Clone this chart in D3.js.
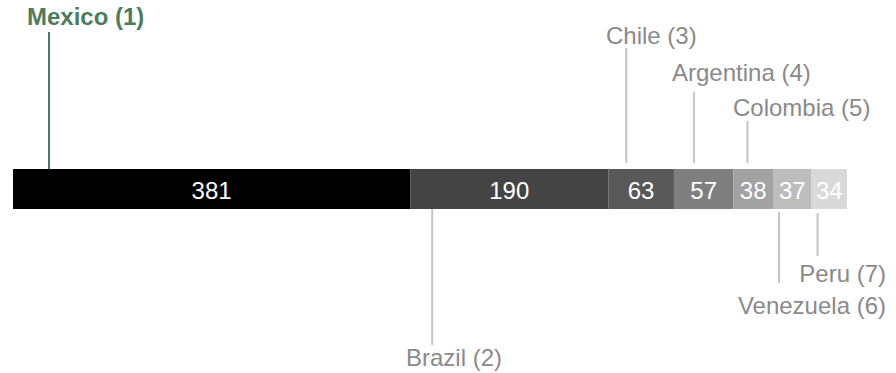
<!DOCTYPE html>
<html>
<head>
<meta charset="utf-8">
<script src="https://cdn.jsdelivr.net/npm/d3@7"></script>
<style>
  html, body { margin: 0; padding: 0; background: #fff; }
  svg { display: block; font-family: "Liberation Sans", Arial, Helvetica, sans-serif; }
</style>
</head>
<body>
<svg id="chart" width="896" height="373"></svg>
<script>
// ---- data ----
const countries = ["Mexico", "Brazil", "Chile", "Argentina", "Colombia", "Venezuela", "Peru"];
const ranks = [1, 2, 3, 4, 5, 6, 7];
const values = [381, 190, 63, 57, 38, 37, 34];

// ---- styles / layout (not data) ----
const segColors = ["#000000", "#444444", "#595959", "#7f7f7f", "#a2a2a2", "#bdbdbd", "#d9d9d9"];
// label annotation layout: leader offset (px from segment start), leader y-range, text x, anchor, baseline
const labelLayout = [
  { off: 36, y1: 32,  y2: 169, tx: 27,  anchor: "start", ty: 25,  highlight: true },
  { off: 22, y1: 209, y2: 345, tx: 406, anchor: "start", ty: 366 },
  { off: 18, y1: 48,  y2: 163, tx: 606, anchor: "start", ty: 44 },
  { off: 20, y1: 92,  y2: 163, tx: 672, anchor: "start", ty: 81 },
  { off: 14, y1: 121, y2: 163, tx: 733, anchor: "start", ty: 116 },
  { off: 6,  y1: 212, y2: 283, tx: 886, anchor: "end",   ty: 314 },
  { off: 6,  y1: 213, y2: 256, tx: 886, anchor: "end",   ty: 282 }
];

const svg = d3.select("#chart");
const total = d3.sum(values);
const x = d3.scaleLinear().domain([0, total]).range([13, 847]);
const barY = 169, barH = 40;
const fontSize = 24;

let acc = 0;
const segs = values.map((v, i) => {
  const s = { name: countries[i], rank: ranks[i], value: v, start: acc, end: acc + v, i };
  acc += v;
  return s;
});

// bars
svg.append("g").selectAll("rect").data(segs).join("rect")
  .attr("x", d => x(d.start))
  .attr("y", barY)
  .attr("width", d => x(d.end) - x(d.start))
  .attr("height", barH)
  .attr("fill", d => segColors[d.i]);

// value labels
svg.append("g").selectAll("text").data(segs).join("text")
  .attr("x", d => (x(d.start) + x(d.end)) / 2)
  .attr("y", barY + barH / 2 + 10)
  .attr("text-anchor", "middle")
  .attr("fill", "#ffffff")
  .style("font-size", fontSize + "px")
  .text(d => d.value);

// leader lines
const green = "#4b7d5a";
svg.append("g").selectAll("line").data(segs).join("line")
  .attr("x1", d => x(d.start) + labelLayout[d.i].off)
  .attr("x2", d => x(d.start) + labelLayout[d.i].off)
  .attr("y1", d => labelLayout[d.i].y1)
  .attr("y2", d => labelLayout[d.i].y2)
  .attr("stroke", d => labelLayout[d.i].highlight ? green : "#c4c4c4")
  .attr("stroke-width", 2);

// country labels
svg.append("g").selectAll("text").data(segs).join("text")
  .attr("x", d => labelLayout[d.i].tx)
  .attr("y", d => labelLayout[d.i].ty)
  .attr("text-anchor", d => labelLayout[d.i].anchor)
  .attr("fill", d => labelLayout[d.i].highlight ? green : "#8a8a8a")
  .style("font-weight", d => labelLayout[d.i].highlight ? "bold" : "normal")
  .style("font-size", fontSize + "px")
  .text(d => `${d.name} (${d.rank})`);
</script>
</body>
</html>
